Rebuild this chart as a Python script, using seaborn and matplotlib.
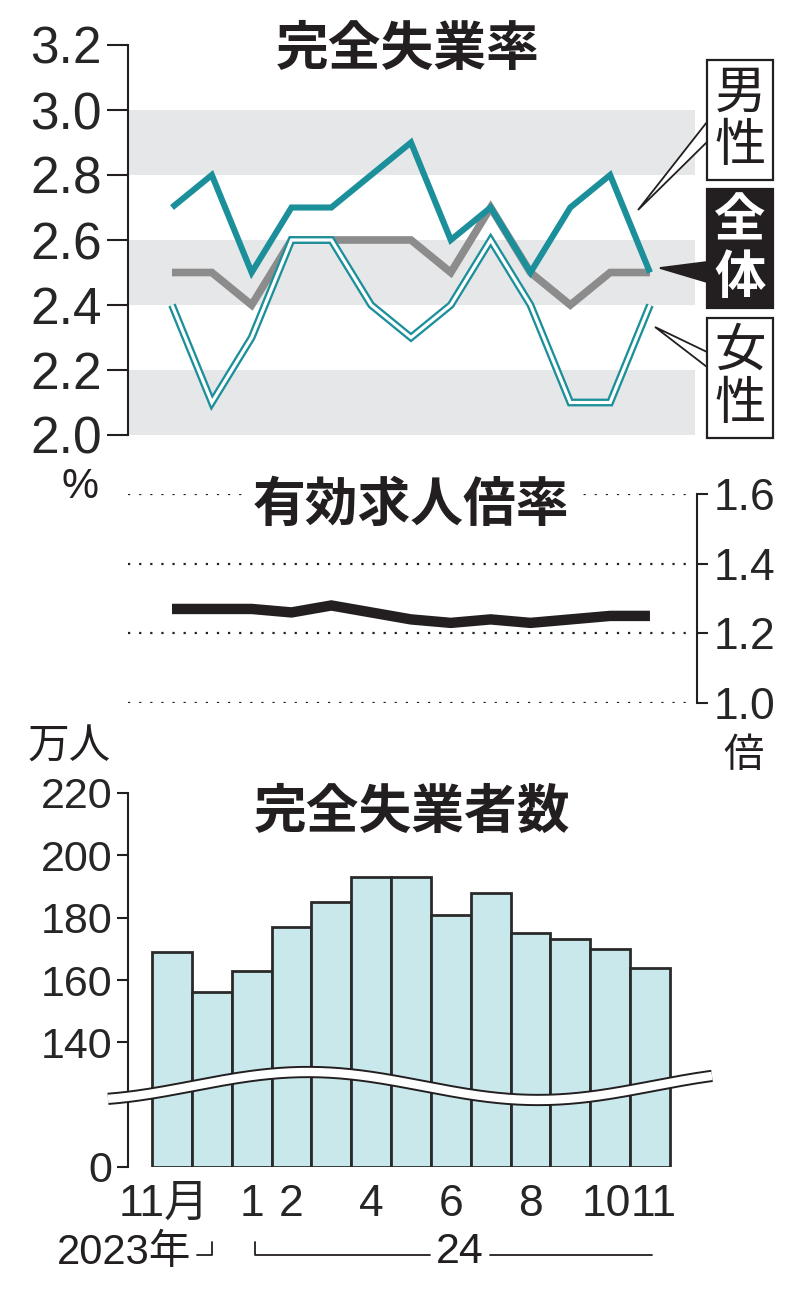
import numpy as np
import matplotlib
matplotlib.use('Agg')
import matplotlib.pyplot as plt
import seaborn as sns
from matplotlib import font_manager
from matplotlib.lines import Line2D
from matplotlib.patches import Rectangle, Polygon
from matplotlib.transforms import ScaledTranslation

# data (Nov 2023 - Nov 2024)
month_ticks = ['11月', '', '1', '2', '', '4', '', '6', '', '8', '', '10', '11']
men = [2.7, 2.8, 2.5, 2.7, 2.7, 2.8, 2.9, 2.6, 2.7, 2.5, 2.7, 2.8, 2.5]
total = [2.5, 2.5, 2.4, 2.6, 2.6, 2.6, 2.6, 2.5, 2.7, 2.5, 2.4, 2.5, 2.5]
women = [2.4, 2.1, 2.3, 2.6, 2.6, 2.4, 2.3, 2.4, 2.6, 2.4, 2.1, 2.1, 2.4]
ratio = [1.27, 1.27, 1.27, 1.26, 1.28, 1.26, 1.24, 1.23, 1.24, 1.23, 1.24, 1.25, 1.25]
unemployed = [169, 156, 163, 177, 185, 193, 193, 181, 188, 175, 173, 170, 164]

rate_ticks = [2.0, 2.2, 2.4, 2.6, 2.8, 3.0, 3.2]
ratio_ticks = [1.0, 1.2, 1.4, 1.6]
count_ticks = [0, 140, 160, 180, 200, 220]

TEAL = '#1b8f9a'
GRAY = '#8c8c8c'
BAND = '#e6e7e8'
BAR = '#c9e8eb'
INK = '#231f20'

sns.set_theme(style='white')
names = {f.name for f in font_manager.fontManager.ttflist}
NUM = 'Liberation Sans Narrow' if 'Liberation Sans Narrow' in names else 'Liberation Sans'
CJK = 'Noto Sans CJK JP'
plt.rcParams['font.family'] = [NUM, CJK, 'DejaVu Sans']
plt.rcParams['text.color'] = INK

W, H = 800, 1298
fig = plt.figure(figsize=(8, 12.98), dpi=100)


def fx(x):
    return x / W


def fy(y):
    return 1 - y / H


X0, DX = 172, 39.83  # pixel of first month, month spacing


def xi(px):
    return (px - X0) / DX


idx = np.arange(len(men))

# ---------------- 完全失業率 ----------------
ax1 = fig.add_axes([fx(128), fy(435), (695 - 128) / W, (435 - 45) / H])
for lo in (2.0, 2.4, 2.8):
    ax1.axhspan(lo, lo + 0.2, color=BAND, lw=0, zorder=0)
sns.lineplot(x=idx, y=total, ax=ax1, color=GRAY, linewidth=5.5,
             solid_joinstyle='miter', solid_capstyle='butt', zorder=3)
sns.lineplot(x=idx, y=women, ax=ax1, color=TEAL, linewidth=5.6,
             solid_joinstyle='miter', solid_capstyle='butt', zorder=4)
sns.lineplot(x=idx, y=women, ax=ax1, color='white', linewidth=2.3,
             solid_joinstyle='miter', solid_capstyle='butt', zorder=5)
sns.lineplot(x=idx, y=men, ax=ax1, color=TEAL, linewidth=4.4,
             solid_joinstyle='miter', solid_capstyle='butt', zorder=6)
ax1.set_xlim(xi(128), xi(695))
ax1.set_ylim(2.0, 3.2)
ax1.set_yticks(rate_ticks, [f'{v:.1f}' for v in rate_ticks])
ax1.set_xticks([])
ax1.set_xlabel('')
ax1.set_ylabel('')
for s in ('top', 'right', 'bottom'):
    ax1.spines[s].set_visible(False)
ax1.spines['left'].set_linewidth(1.5)
ax1.spines['left'].set_color(INK)
ax1.tick_params(axis='y', direction='out', length=15, width=1.5, color=INK,
                pad=4, labelsize=37, left=True)

fig.text(fx(408), fy(50), '完全失業率', ha='center', va='center',
         fontsize=38, fontweight='bold', family=CJK)
fig.text(fx(80), fy(487), '%', ha='center', va='center', fontsize=30)

# legend boxes with pointers
def poly(pts, face):
    fig.add_artist(Polygon([(fx(a), fy(b)) for a, b in pts], closed=True,
                           facecolor=face, edgecolor=INK, lw=1.3,
                           transform=fig.transFigure, zorder=4))


def box(x0, y0, x1, y1, face):
    fig.add_artist(Rectangle((fx(x0), fy(y1)), (x1 - x0) / W, (y1 - y0) / H,
                             facecolor=face, edgecolor=INK, lw=1.6,
                             transform=fig.transFigure, zorder=5))


poly([(707, 122), (638, 210), (707, 142)], 'white')
poly([(707, 262), (660, 268), (707, 282)], INK)
poly([(707, 352), (655, 327), (707, 367)], 'white')
box(707, 60, 773, 180, 'white')
box(707, 189, 773, 308, INK)
box(707, 318, 773, 438, 'white')
for ch, y, col, wt in [('男', 93, INK, 'normal'), ('性', 146, INK, 'normal'),
                       ('全', 221, 'white', 'bold'), ('体', 277, 'white', 'bold'),
                       ('女', 351, INK, 'normal'), ('性', 404, INK, 'normal')]:
    fig.text(fx(740), fy(y), ch, ha='center', va='center', fontsize=37,
             color=col, fontweight=wt, family=CJK, zorder=6)

# ---------------- 有効求人倍率 ----------------
ax2 = fig.add_axes([fx(128), fy(703), (697 - 128) / W, (703 - 494) / H])
ax2.patch.set_alpha(0)
for v in ratio_ticks:
    ax2.axhline(v, xmin=0, xmax=(687 - 128) / (697 - 128), color=INK, lw=1.6,
                linestyle=(0, (1, 4)), zorder=1)
sns.lineplot(x=idx, y=ratio, ax=ax2, color=INK, linewidth=7.5,
             solid_joinstyle='miter', solid_capstyle='butt', zorder=3)
ax2.set_xlim(xi(128), xi(697))
ax2.set_ylim(1.0, 1.6)
ax2.yaxis.tick_right()
ax2.set_yticks(ratio_ticks, [f'{v:.1f}' for v in ratio_ticks])
ax2.set_xticks([])
ax2.set_xlabel('')
ax2.set_ylabel('')
for s in ('top', 'left', 'bottom'):
    ax2.spines[s].set_visible(False)
ax2.spines['right'].set_linewidth(1.5)
ax2.spines['right'].set_color(INK)
ax2.tick_params(axis='y', direction='out', length=8, width=1.5, color=INK,
                pad=4, labelsize=32, right=True, left=False)

fig.text(fx(411), fy(505), '有効求人倍率', ha='center', va='center',
         fontsize=38, fontweight='bold', family=CJK, zorder=3,
         bbox=dict(facecolor='white', edgecolor='none', pad=8))
fig.text(fx(743), fy(755), '倍', ha='center', va='center', fontsize=29, family=CJK)

# ---------------- 完全失業者数 ----------------
ax3 = fig.add_axes([fx(128), fy(1167), (695 - 128) / W, (1167 - 793) / H])
ax3.patch.set_alpha(0)
sns.barplot(x=idx, y=unemployed, ax=ax3, color=BAR, saturation=1, width=1.0,
            edgecolor='#2a2a2a', linewidth=2.0, errorbar=None)


def fwd(v):
    v = np.asarray(v, float)
    return np.where(v < 140, 100 + v * 40 / 140, v)


def inv(p):
    p = np.asarray(p, float)
    return np.where(p < 140, (p - 100) * 140 / 40, p)


ax3.set_yscale('function', functions=(fwd, inv))
ax3.set_xlim(xi(128), xi(695))
ax3.set_ylim(0, 220)
ax3.set_yticks(count_ticks, [str(v) for v in count_ticks])
ax3.yaxis.set_minor_locator(matplotlib.ticker.NullLocator())
ax3.set_xticks(idx, month_ticks)
ax3.set_xlabel('')
ax3.set_ylabel('')
for s in ('top', 'right', 'bottom'):
    ax3.spines[s].set_visible(False)
ax3.spines['left'].set_linewidth(1.5)
ax3.spines['left'].set_color(INK)
ax3.tick_params(axis='y', direction='out', length=8, width=1.5, color=INK,
                pad=3, labelsize=31, left=True)
ax3.tick_params(axis='x', length=0, pad=12, labelsize=32)
# nudge a few month labels as in the original typesetting
shifts = {0: -0.08, 11: -0.04, 12: 0.04}
labels = ax3.get_xticklabels()
for i, dx in shifts.items():
    lb = labels[i]
    lb.set_transform(lb.get_transform() + ScaledTranslation(dx, 0, fig.dpi_scale_trans))

fig.text(fx(412), fy(812), '完全失業者数', ha='center', va='center',
         fontsize=38, fontweight='bold', family=CJK)
fig.text(fx(69), fy(747), '万人', ha='center', va='center', fontsize=30, family=CJK)

# axis break band
wx = np.linspace(108, 712, 300)
wy = 1086 - 14 * np.cos(2 * np.pi * (wx - 308) / 460)
fig.add_artist(Line2D(fx(wx), fy(wy), color=INK, lw=8.8, solid_capstyle='butt',
                      transform=fig.transFigure, zorder=6))
fig.add_artist(Line2D(fx(wx), fy(wy), color='white', lw=6.0, solid_capstyle='butt',
                      transform=fig.transFigure, zorder=7))

# year brackets
def seg(xs, ys):
    fig.add_artist(Line2D([fx(a) for a in xs], [fy(b) for b in ys], color=INK,
                          lw=1.3, transform=fig.transFigure))


fig.text(fx(124), fy(1253), '2023年', ha='center', va='center', fontsize=30)
seg([197, 212, 212], [1255, 1255, 1242])
seg([255, 255, 430], [1242, 1255, 1255])
fig.text(fx(460), fy(1252), '24', ha='center', va='center', fontsize=31)
seg([490, 652], [1255, 1255])

fig.savefig('out.png', dpi=100)
